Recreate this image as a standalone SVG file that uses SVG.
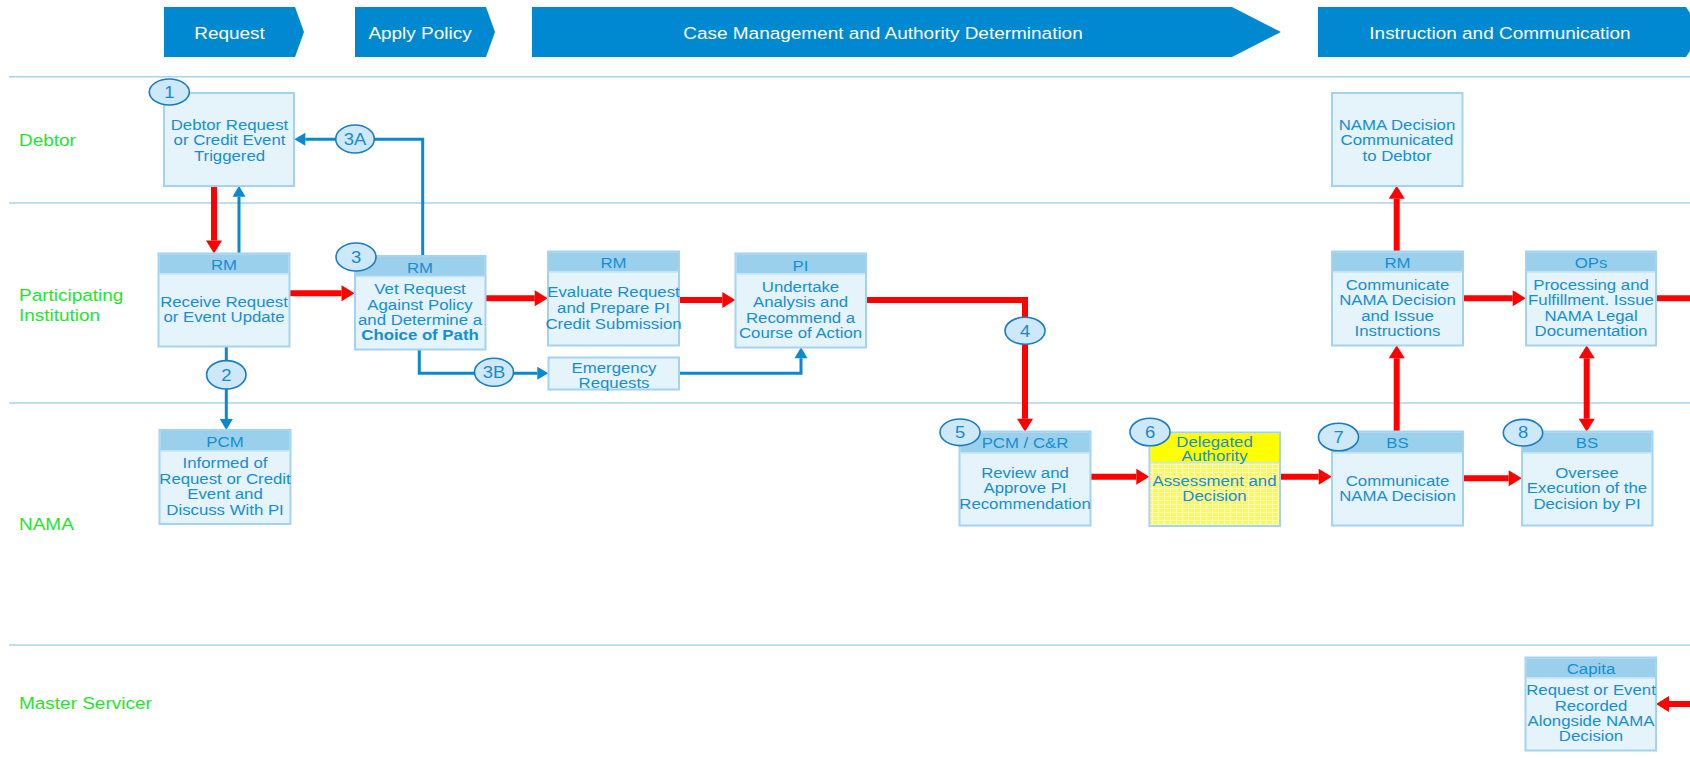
<svg xmlns="http://www.w3.org/2000/svg" width="1690" height="759" viewBox="0 0 1690 759">
  <style>
    text { font-family: "Liberation Sans", Arial, sans-serif; }
    .phase { fill: #0089d1; }
    .phase-t { fill: #ffffff; font-size: 16.5px; text-anchor: middle; }
    .lane { stroke: #a8d5ee; stroke-width: 1.5; fill: none; }
    .lane-t { fill: #1ee630; font-size: 16.5px; }
    .box { fill: #e5f3fb; stroke: #a3d3ee; stroke-width: 2; }
    .hdr { fill: #9bd0ec; }
    .sep { stroke: #c3e4f6; stroke-width: 1.5; }
    .t { fill: #168ed4; font-size: 14.6px; text-anchor: middle; }
    .b { font-weight: bold; }
    .step { fill: #cde8f8; stroke: #1a7dc2; stroke-width: 1.6; }
    .step-t { fill: #1a88cf; font-size: 16px; text-anchor: middle; }
    .red { stroke: #ff0000; stroke-width: 6; fill: none; }
    .blue { stroke: #0a88d0; stroke-width: 3; fill: none; }
    .yhdr { fill: #ffff00; }
  </style>
  <defs>
    <marker id="ah-red" markerUnits="userSpaceOnUse" markerWidth="14" markerHeight="16" refX="0" refY="8" orient="auto-start-reverse" overflow="visible">
      <path d="M0,0 L13,8 L0,16 Z" fill="#ff0000"/>
    </marker>
    <marker id="ah-blue" markerUnits="userSpaceOnUse" markerWidth="12" markerHeight="13" refX="0" refY="6.5" orient="auto-start-reverse" overflow="visible">
      <path d="M0,0 L11,6.5 L0,13 Z" fill="#0a88d0"/>
    </marker>
    <pattern id="grid" width="6" height="4" patternUnits="userSpaceOnUse">
      <rect width="6" height="4" fill="#fbf85c"/>
      <path d="M0,0.5 H6 M0.5,0 V4" stroke="#fffbb0" stroke-width="1"/>
    </pattern>
  </defs>

  <!-- phase banner -->
  <g id="phases">
    <polygon class="phase" points="164,7 295,7 304,32 295,57 164,57"/>
    <text class="phase-t" transform="translate(229.5,0) scale(1.15,1)" x="0" y="39">Request</text>
    <polygon class="phase" points="355,7 486,7 495,32 486,57 355,57"/>
    <text class="phase-t" transform="translate(420,0) scale(1.15,1)" x="0" y="39">Apply Policy</text>
    <polygon class="phase" points="532,7 1232,7 1281,32 1232,57 532,57"/>
    <text class="phase-t" transform="translate(883,0) scale(1.15,1)" x="0" y="39">Case Management and Authority Determination</text>
    <polygon class="phase" points="1318,7 1686,7 1690,13 1690,51 1686,57 1318,57"/>
    <text class="phase-t" transform="translate(1500,0) scale(1.15,1)" x="0" y="39">Instruction and Communication</text>
  </g>

  <!-- swimlanes -->
  <g id="lanes">
    <path class="lane" d="M9,76.7 H1690 M9,203 H1690 M9,403 H1690 M9,645 H1690"/>
    <text class="lane-t" transform="translate(19,0) scale(1.15,1)" x="0" y="146.5">Debtor</text>
    <text class="lane-t" transform="translate(19,0) scale(1.15,1)"><tspan x="0" y="301">Participating</tspan><tspan x="0" y="321">Institution</tspan></text>
    <text class="lane-t" transform="translate(19,0) scale(1.15,1)" x="0" y="530">NAMA</text>
    <text class="lane-t" transform="translate(19,0) scale(1.15,1)" x="0" y="709">Master Servicer</text>
  </g>

  <!-- connectors -->
  <g id="connectors">
    <path class="red" d="M214,186 V240.5" marker-end="url(#ah-red)"/>
    <path class="red" d="M289.5,293.3 H341.5" marker-end="url(#ah-red)"/>
    <path class="red" d="M485.5,298.3 H534.7" marker-end="url(#ah-red)"/>
    <path class="red" d="M679,300 H722.3" marker-end="url(#ah-red)"/>
    <path class="red" d="M866,300 H1025 V418.7" marker-end="url(#ah-red)"/>
    <path class="red" d="M1090.7,476.7 H1136.3" marker-end="url(#ah-red)"/>
    <path class="red" d="M1280,476.7 H1318.7" marker-end="url(#ah-red)"/>
    <path class="red" d="M1462.7,478.3 H1508.7" marker-end="url(#ah-red)"/>
    <path class="red" d="M1396.7,431.7 V358.3" marker-end="url(#ah-red)"/>
    <path class="red" d="M1396.7,251.7 V198.7" marker-end="url(#ah-red)"/>
    <path class="red" d="M1462.7,298.3 H1512.7" marker-end="url(#ah-red)"/>
    <path class="red" d="M1655.7,298.3 H1690"/>
    <path class="red" d="M1586.7,358.3 V418.7" marker-start="url(#ah-red)" marker-end="url(#ah-red)"/>
    <path class="red" d="M1690,704 H1669" marker-end="url(#ah-red)"/>

    <path class="blue" d="M239,253.3 V196.7" marker-end="url(#ah-blue)"/>
    <path class="blue" d="M226.3,346 V419" marker-end="url(#ah-blue)"/>
    <path class="blue" d="M422.7,255.7 V139.3 H305.3" marker-end="url(#ah-blue)"/>
    <path class="blue" d="M419.3,349 V373.3 H537.3" marker-end="url(#ah-blue)"/>
    <path class="blue" d="M677,373.3 H801 V358.3" marker-end="url(#ah-blue)"/>
  </g>

  <!-- Debtor lane -->
  <g id="n1-debtor-request">
    <rect class="box" x="164" y="93" width="130" height="93"/>
    <text class="t" transform="translate(229.5,0) scale(1.15,1)"><tspan x="0" y="130">Debtor Request</tspan><tspan x="0" y="145.5">or Credit Event</tspan><tspan x="0" y="161">Triggered</tspan></text>
  </g>
  <g id="n-decision-to-debtor">
    <rect class="box" x="1332" y="93" width="130.5" height="93"/>
    <text class="t" transform="translate(1397,0) scale(1.15,1)"><tspan x="0" y="130">NAMA Decision</tspan><tspan x="0" y="145">Communicated</tspan><tspan x="0" y="161">to Debtor</tspan></text>
  </g>

  <!-- Participating Institution lane -->
  <g id="n-receive-request">
    <rect class="box" x="158.5" y="253.5" width="131" height="93"/>
    <rect class="hdr" x="159.5" y="254.5" width="129" height="19"/>
    <line class="sep" x1="159.5" y1="274" x2="288.5" y2="274"/>
    <text class="t" transform="translate(224,0) scale(1.15,1)"><tspan x="0" y="270">RM</tspan><tspan x="0" y="307">Receive Request</tspan><tspan x="0" y="322">or Event Update</tspan></text>
  </g>
  <g id="n3-vet-request">
    <rect class="box" x="355" y="256" width="130.5" height="93.5"/>
    <rect class="hdr" x="356" y="257" width="128.5" height="19"/>
    <line class="sep" x1="356" y1="276.5" x2="484.5" y2="276.5"/>
    <text class="t" transform="translate(420,0) scale(1.15,1)"><tspan x="0" y="273">RM</tspan><tspan x="0" y="294">Vet Request</tspan><tspan x="0" y="310">Against Policy</tspan><tspan x="0" y="325.5">and Determine a</tspan><tspan x="0" y="340.5" class="b">Choice of Path</tspan></text>
  </g>
  <g id="n-evaluate-request">
    <rect class="box" x="548" y="251.5" width="131" height="94"/>
    <rect class="hdr" x="549" y="252.5" width="129" height="19"/>
    <line class="sep" x1="549" y1="272" x2="678" y2="272"/>
    <text class="t" transform="translate(613.5,0) scale(1.15,1)"><tspan x="0" y="268">RM</tspan><tspan x="0" y="297">Evaluate Request</tspan><tspan x="0" y="313">and Prepare PI</tspan><tspan x="0" y="329">Credit Submission</tspan></text>
  </g>
  <g id="n-emergency-requests">
    <rect class="box" x="548.5" y="357.5" width="130.5" height="32"/>
    <text class="t" transform="translate(614,0) scale(1.15,1)"><tspan x="0" y="373">Emergency</tspan><tspan x="0" y="388">Requests</tspan></text>
  </g>
  <g id="n-undertake-analysis">
    <rect class="box" x="735.5" y="253.5" width="130.5" height="94"/>
    <rect class="hdr" x="736.5" y="254.5" width="128.5" height="19"/>
    <line class="sep" x1="736.5" y1="274" x2="865" y2="274"/>
    <text class="t" transform="translate(800.5,0) scale(1.15,1)"><tspan x="0" y="271">PI</tspan><tspan x="0" y="292">Undertake</tspan><tspan x="0" y="307">Analysis and</tspan><tspan x="0" y="323">Recommend a</tspan><tspan x="0" y="338">Course of Action</tspan></text>
  </g>
  <g id="n-communicate-instructions">
    <rect class="box" x="1332" y="251.5" width="131" height="94"/>
    <rect class="hdr" x="1333" y="252.5" width="129" height="19"/>
    <line class="sep" x1="1333" y1="272" x2="1462" y2="272"/>
    <text class="t" transform="translate(1397.5,0) scale(1.15,1)"><tspan x="0" y="268">RM</tspan><tspan x="0" y="290">Communicate</tspan><tspan x="0" y="305">NAMA Decision</tspan><tspan x="0" y="321">and Issue</tspan><tspan x="0" y="336">Instructions</tspan></text>
  </g>
  <g id="n-processing">
    <rect class="box" x="1526" y="251.5" width="130" height="94"/>
    <rect class="hdr" x="1527" y="252.5" width="128" height="19"/>
    <line class="sep" x1="1527" y1="272" x2="1655" y2="272"/>
    <text class="t" transform="translate(1591,0) scale(1.15,1)"><tspan x="0" y="268">OPs</tspan><tspan x="0" y="290">Processing and</tspan><tspan x="0" y="305">Fulfillment. Issue</tspan><tspan x="0" y="321">NAMA Legal</tspan><tspan x="0" y="336">Documentation</tspan></text>
  </g>

  <!-- NAMA lane -->
  <g id="n2-informed">
    <rect class="box" x="159.5" y="430" width="131" height="94"/>
    <rect class="hdr" x="160.5" y="431" width="129" height="19.5"/>
    <line class="sep" x1="160.5" y1="451" x2="289.5" y2="451"/>
    <text class="t" transform="translate(225,0) scale(1.15,1)"><tspan x="0" y="447">PCM</tspan><tspan x="0" y="468">Informed of</tspan><tspan x="0" y="484">Request or Credit</tspan><tspan x="0" y="499">Event and</tspan><tspan x="0" y="515">Discuss With PI</tspan></text>
  </g>
  <g id="n5-review">
    <rect class="box" x="959.5" y="431.5" width="131" height="94"/>
    <rect class="hdr" x="960.5" y="432.5" width="129" height="20"/>
    <line class="sep" x1="960.5" y1="453" x2="1089.5" y2="453"/>
    <text class="t" transform="translate(1025,0) scale(1.15,1)"><tspan x="0" y="448">PCM / C&amp;R</tspan><tspan x="0" y="478">Review and</tspan><tspan x="0" y="493.5">Approve PI</tspan><tspan x="0" y="509">Recommendation</tspan></text>
  </g>
  <g id="n6-assessment">
    <rect class="box" x="1149.5" y="432.5" width="130.5" height="93.5"/>
    <rect class="yhdr" x="1150.5" y="433.5" width="128.5" height="28.5"/>
    <rect x="1150.5" y="463" width="128.5" height="62" fill="url(#grid)"/>
    <line class="sep" x1="1150.5" y1="462.5" x2="1279" y2="462.5"/>
    <text class="t" transform="translate(1214.5,0) scale(1.15,1)"><tspan x="0" y="447">Delegated</tspan><tspan x="0" y="461.5">Authority</tspan><tspan x="0" y="486">Assessment and</tspan><tspan x="0" y="501">Decision</tspan></text>
  </g>
  <g id="n7-communicate">
    <rect class="box" x="1332" y="431.5" width="131" height="94"/>
    <rect class="hdr" x="1333" y="432.5" width="129" height="20"/>
    <line class="sep" x1="1333" y1="453" x2="1462" y2="453"/>
    <text class="t" transform="translate(1397.5,0) scale(1.15,1)"><tspan x="0" y="448">BS</tspan><tspan x="0" y="486">Communicate</tspan><tspan x="0" y="501">NAMA Decision</tspan></text>
  </g>
  <g id="n8-oversee">
    <rect class="box" x="1522" y="431.5" width="130.5" height="94"/>
    <rect class="hdr" x="1523" y="432.5" width="128.5" height="20"/>
    <line class="sep" x1="1523" y1="453" x2="1651.5" y2="453"/>
    <text class="t" transform="translate(1587,0) scale(1.15,1)"><tspan x="0" y="448">BS</tspan><tspan x="0" y="478">Oversee</tspan><tspan x="0" y="493">Execution of the</tspan><tspan x="0" y="509">Decision by PI</tspan></text>
  </g>

  <!-- Master Servicer lane -->
  <g id="n-capita-record">
    <rect class="box" x="1525.5" y="657.5" width="130.5" height="93"/>
    <rect class="hdr" x="1526.5" y="658.5" width="128.5" height="19"/>
    <line class="sep" x1="1526.5" y1="678" x2="1655" y2="678"/>
    <text class="t" transform="translate(1591,0) scale(1.15,1)"><tspan x="0" y="674">Capita</tspan><tspan x="0" y="695.5">Request or Event</tspan><tspan x="0" y="711">Recorded</tspan><tspan x="0" y="726.5">Alongside NAMA</tspan><tspan x="0" y="741.5">Decision</tspan></text>
  </g>

  <!-- step markers -->
  <g id="steps">
    <g id="step-1"><ellipse class="step" cx="169.3" cy="92" rx="20" ry="13"/><text class="step-t" transform="translate(169.3,0) scale(1.15,1)" x="0" y="97.8">1</text></g>
    <g id="step-2"><ellipse class="step" cx="226.3" cy="374.8" rx="19.7" ry="14.2"/><text class="step-t" transform="translate(226.3,0) scale(1.15,1)" x="0" y="380.6">2</text></g>
    <g id="step-3"><ellipse class="step" cx="356" cy="257" rx="20" ry="14"/><text class="step-t" transform="translate(356,0) scale(1.15,1)" x="0" y="262.8">3</text></g>
    <g id="step-3a"><ellipse class="step" cx="355" cy="139" rx="19.3" ry="14"/><text class="step-t" transform="translate(355,0) scale(1.15,1)" x="0" y="144.8">3A</text></g>
    <g id="step-3b"><ellipse class="step" cx="494" cy="372.2" rx="19.5" ry="14"/><text class="step-t" transform="translate(494,0) scale(1.15,1)" x="0" y="378">3B</text></g>
    <g id="step-4"><ellipse class="step" cx="1025" cy="330.8" rx="20" ry="13.5"/><text class="step-t" transform="translate(1025,0) scale(1.15,1)" x="0" y="336.6">4</text></g>
    <g id="step-5"><ellipse class="step" cx="960" cy="432.3" rx="20" ry="13.3"/><text class="step-t" transform="translate(960,0) scale(1.15,1)" x="0" y="438.1">5</text></g>
    <g id="step-6"><ellipse class="step" cx="1150" cy="432" rx="20" ry="13.8"/><text class="step-t" transform="translate(1150,0) scale(1.15,1)" x="0" y="437.8">6</text></g>
    <g id="step-7"><ellipse class="step" cx="1338.5" cy="437" rx="20" ry="13.8"/><text class="step-t" transform="translate(1338.5,0) scale(1.15,1)" x="0" y="442.8">7</text></g>
    <g id="step-8"><ellipse class="step" cx="1523" cy="432.7" rx="19.7" ry="13.3"/><text class="step-t" transform="translate(1523,0) scale(1.15,1)" x="0" y="438.5">8</text></g>
  </g>
</svg>
